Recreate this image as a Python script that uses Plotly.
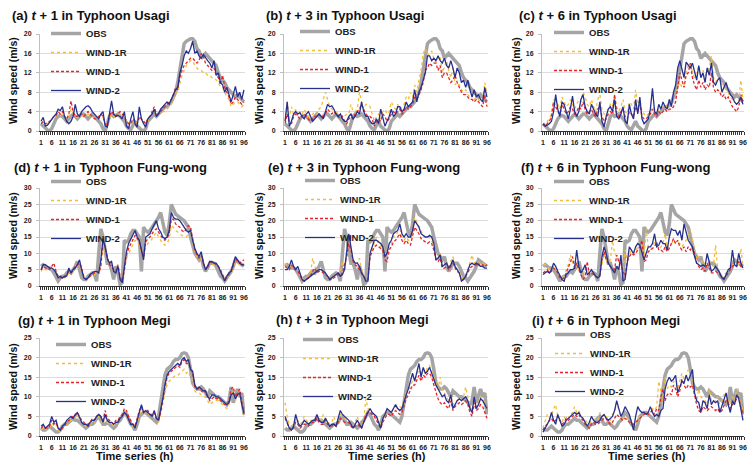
import plotly.graph_objects as go

hours = list(range(1, 97))
x_ticks = [1, 6, 11, 16, 21, 26, 31, 36, 41, 46, 51, 56, 61, 66, 71, 76, 81, 86, 91, 96]
y_ticks_usagi = [0, 4, 8, 12, 16, 20]
y_ticks_fungwong = [0, 5, 10, 15, 20, 25, 30]
y_ticks_megi = [0, 5, 10, 15, 20, 25]
series_names = ["OBS", "WIND-1R", "WIND-1", "WIND-2"]

# ---------------- Typhoon Usagi ----------------
usagi_obs = [1.5,1.0,0.5,0.2,0.0,0.5,1.5,2.5,3.0,3.2,
             3.0,2.5,2.0,2.5,3.0,3.5,3.0,2.5,3.0,3.5,
             3.5,3.0,2.5,3.0,3.5,3.0,2.5,2.0,1.5,0.5,
             0.0,1.5,3.0,3.5,3.0,3.2,3.5,3.0,2.5,2.0,
             1.0,0.5,0.3,1.0,2.0,1.0,0.5,0.2,0.0,0.5,
             2.0,2.5,3.0,3.5,3.0,3.5,4.0,4.5,5.0,5.0,
             5.5,6.0,7.0,8.0,10.0,13.0,15.5,18.0,18.5,18.7,
             19.0,19.0,18.5,17.0,16.5,15.0,15.5,16.0,15.5,15.0,
             14.5,14.0,13.5,12.0,11.0,10.5,10.0,9.0,8.5,8.0,
             7.5,7.0,7.5,7.0,6.5,6.0]

usagi_t1_wind1r = [1.5,1.8,1.5,1.5,2.0,2.5,2.8,3.0,3.5,3.2,
                   3.5,3.0,2.5,3.0,4.5,3.5,3.0,2.8,3.0,3.2,
                   3.0,3.2,3.5,3.2,3.0,2.5,2.5,2.8,3.0,2.8,
                   1.5,1.2,2.5,3.5,3.0,3.0,3.0,3.5,3.0,2.8,
                   2.0,1.5,1.5,2.0,2.0,1.5,2.5,2.0,1.8,1.5,
                   2.0,2.5,3.5,4.5,3.0,3.2,3.5,4.0,4.0,4.5,
                   5.0,5.5,6.5,8.0,8.0,10.0,11.5,12.5,13.5,14.0,
                   14.5,14.5,13.5,13.0,12.5,12.5,12.0,12.0,11.5,11.5,
                   11.0,11.0,10.5,10.0,9.0,9.0,8.0,7.0,6.5,5.0,
                   5.5,6.0,6.0,5.5,5.0,5.5]
usagi_t1_wind1 = [1.5,2.0,1.5,1.8,2.0,2.5,3.0,3.2,4.0,3.5,
                  4.0,3.0,2.5,3.5,6.2,4.0,3.0,3.0,3.5,3.5,
                  3.0,3.5,4.0,3.5,3.0,2.5,2.5,3.0,3.5,3.0,
                  1.5,1.0,3.0,4.0,3.5,3.0,3.5,4.0,3.5,3.0,
                  2.0,1.5,1.5,2.5,2.0,1.5,3.0,2.5,2.0,1.5,
                  2.5,3.0,4.0,5.0,3.5,3.5,4.0,4.5,5.0,5.5,
                  6.0,6.5,7.5,9.0,8.5,11.0,12.5,13.5,14.0,14.5,
                  15.0,15.0,14.5,14.0,14.5,16.0,15.5,14.0,13.5,13.0,
                  12.5,13.0,11.5,11.0,9.5,11.5,9.0,8.0,7.0,5.5,
                  6.0,7.0,6.5,6.0,5.5,6.0]
usagi_t1_wind2 = [2.0,2.8,1.0,1.2,1.8,2.5,3.0,3.5,4.5,4.2,
                  5.0,3.0,2.0,1.5,2.0,3.0,5.5,3.5,3.0,4.0,
                  4.5,5.0,5.2,4.8,4.0,3.5,3.0,2.5,3.5,4.0,
                  1.0,0.8,3.5,6.2,3.5,3.0,3.2,3.0,2.5,4.0,
                  1.0,0.5,2.5,4.0,1.5,0.8,5.0,2.5,1.5,0.8,
                  2.5,3.0,3.5,4.5,3.0,3.5,4.5,5.0,5.5,6.0,
                  5.5,6.5,7.5,8.5,9.0,12.0,13.5,15.5,16.5,16.0,
                  17.0,18.5,16.0,16.5,15.5,15.0,15.8,15.0,14.5,14.0,
                  13.0,14.5,11.5,12.0,10.0,9.5,8.0,9.0,7.5,6.0,
                  7.5,9.2,7.0,8.0,6.5,8.5]

usagi_t3_wind1r = [2.0,6.0,2.5,5.0,3.5,4.5,3.0,4.0,3.5,4.5,
                   3.5,3.0,3.0,3.5,4.0,3.5,4.5,5.0,6.5,8.0,
                   6.5,5.0,4.5,4.0,4.0,3.5,3.5,3.0,3.0,3.5,
                   3.5,5.5,4.0,4.0,4.5,8.0,6.0,4.5,5.5,5.5,
                   5.0,3.5,2.0,3.0,3.5,2.5,4.0,4.5,3.5,4.0,
                   6.0,5.0,4.5,5.5,4.5,5.0,5.5,7.0,6.5,8.0,
                   7.0,9.5,8.0,10.5,12.5,16.0,17.0,15.5,16.0,16.5,
                   15.0,14.0,15.0,15.5,12.0,13.5,14.5,12.5,11.0,13.0,
                   9.5,10.0,9.5,8.5,8.0,8.5,7.5,7.0,7.5,6.5,
                   7.0,6.5,6.0,6.5,10.0,7.5]
usagi_t3_wind1 = [1.5,3.5,2.0,1.5,3.0,3.5,3.0,2.5,3.0,3.5,
                  3.0,2.5,2.0,2.5,3.0,3.0,3.5,3.0,3.0,3.5,
                  4.5,4.0,3.5,4.0,3.5,3.0,2.5,3.0,2.0,1.5,
                  2.5,3.0,2.5,3.5,4.0,4.5,5.5,4.5,3.5,3.0,
                  3.0,2.5,1.0,2.0,2.5,2.0,3.5,3.0,2.0,2.5,
                  3.5,4.0,3.5,4.0,4.5,3.5,4.0,5.0,4.5,5.0,
                  5.5,7.0,6.5,7.5,8.5,10.0,12.5,13.0,14.0,13.5,
                  14.0,14.0,12.5,13.5,11.0,12.0,12.0,11.0,10.0,10.5,
                  11.5,10.0,9.0,8.0,7.5,7.5,7.0,6.5,6.5,6.0,
                  6.5,6.0,5.5,5.0,7.5,5.0]
usagi_t3_wind2 = [2.0,6.0,1.0,2.0,3.5,4.0,3.5,3.8,3.0,2.5,
                  3.5,4.0,3.0,2.0,2.5,3.0,3.5,3.0,2.5,4.0,
                  5.5,5.0,5.2,4.5,3.5,3.0,3.5,2.5,2.0,2.0,
                  3.0,3.5,2.5,3.0,4.0,3.5,6.0,4.0,3.0,3.0,
                  2.0,1.5,1.5,2.5,1.5,4.5,2.5,1.0,2.0,3.0,
                  4.5,3.0,3.5,5.0,5.0,4.0,4.5,6.0,5.0,5.5,
                  6.0,8.5,6.0,8.0,9.0,10.5,12.0,15.5,15.5,14.5,
                  15.0,14.5,15.5,14.5,14.0,15.0,13.5,13.0,14.5,13.0,
                  11.0,13.0,12.0,10.0,10.5,9.0,10.5,8.5,7.0,8.5,
                  7.0,7.5,6.5,6.0,9.0,7.0]

usagi_t6_wind1r = [1.5,1.2,2.0,2.5,3.5,6.5,6.0,5.5,4.5,7.0,
                   6.0,5.0,5.5,6.5,5.5,4.5,5.5,6.5,6.0,8.0,
                   7.0,5.5,5.0,6.5,5.0,4.0,6.5,7.5,4.5,3.5,
                   3.5,4.5,5.5,5.0,7.5,5.0,4.0,5.0,6.5,4.0,
                   3.5,6.0,5.5,4.5,8.5,5.5,6.5,4.0,3.5,3.0,
                   3.5,4.0,5.0,4.5,4.0,4.5,4.5,5.0,5.5,4.5,
                   5.0,5.5,6.0,7.0,9.0,10.0,9.0,9.5,12.0,13.5,
                   14.0,12.0,11.0,12.5,13.0,11.0,12.5,11.5,12.0,13.0,
                   15.5,11.0,10.0,11.0,10.5,9.5,9.0,8.5,8.0,7.0,
                   6.5,6.0,5.5,6.0,10.5,6.5]
usagi_t6_wind1 = [1.5,1.0,1.5,2.0,3.0,6.0,5.0,4.0,3.5,5.5,
                  4.5,3.5,4.0,5.0,4.5,3.5,4.0,5.0,4.5,6.0,
                  4.5,3.5,4.0,4.5,3.5,3.0,4.5,5.0,3.0,2.0,
                  2.5,3.5,4.0,3.5,7.5,3.5,3.0,4.0,4.5,3.0,
                  2.5,4.0,3.5,3.0,5.0,4.0,5.5,3.0,2.5,2.5,
                  3.0,3.5,4.5,3.5,3.0,4.0,3.5,4.0,4.5,4.0,
                  4.5,4.5,5.0,6.0,9.5,12.0,10.5,9.0,11.5,12.0,
                  14.0,11.0,9.5,8.5,10.5,9.0,10.0,8.5,9.5,9.0,
                  12.0,9.0,8.0,8.5,8.0,7.0,7.5,6.5,7.0,6.0,
                  5.0,4.5,4.0,5.0,7.5,6.0]
usagi_t6_wind2 = [1.5,1.0,1.2,1.5,2.0,4.0,7.5,4.5,3.0,6.0,
                  5.5,4.0,2.5,4.5,7.2,4.0,3.0,4.0,6.5,7.5,
                  5.0,4.0,3.5,5.5,4.5,3.5,3.0,6.0,2.0,0.8,
                  3.0,4.5,5.0,4.0,6.5,3.0,2.5,3.5,5.0,2.0,
                  1.5,5.5,3.5,2.5,6.5,3.5,7.0,2.5,1.5,2.0,
                  2.5,4.5,8.8,4.0,3.5,5.5,4.5,6.0,5.0,4.5,
                  6.5,5.0,8.0,9.5,13.0,14.5,12.5,11.0,14.2,13.5,
                  13.0,14.0,12.0,10.5,13.5,11.0,12.0,10.0,13.0,11.5,
                  14.0,10.0,9.5,10.5,11.0,8.0,9.0,10.0,8.5,7.5,
                  7.0,6.0,5.5,6.0,7.0,5.5]

# ---------------- Typhoon Fung-wong ----------------
fungwong_obs = [6.0,6.5,6.0,5.5,5.5,5.0,4.0,2.5,1.5,2.5,
                3.0,3.0,4.0,4.5,4.0,5.0,6.0,7.5,5.0,2.5,
                2.0,2.0,3.0,3.5,4.0,3.5,1.5,10.0,17.5,15.0,
                11.0,7.0,7.0,5.0,2.0,6.0,4.0,0.5,1.0,14.0,
                13.5,14.0,16.0,17.0,17.0,16.0,15.0,4.5,18.0,17.0,
                16.5,17.0,18.0,19.0,20.0,21.0,22.5,20.0,16.5,15.5,
                19.0,25.0,23.5,22.0,21.5,21.0,20.5,20.0,19.0,18.0,
                15.0,12.0,10.0,9.0,8.0,9.0,6.0,4.5,5.5,7.0,
                7.0,7.0,6.0,4.5,3.0,2.5,1.5,2.5,3.5,4.5,
                6.0,8.0,7.5,7.0,6.5,6.0]

fungwong_t1_wind1r = [4.5,5.5,5.0,5.0,5.0,5.0,5.5,4.5,3.5,2.5,
                      2.5,2.5,3.0,4.0,4.0,4.5,5.5,6.0,6.5,5.0,
                      3.0,2.0,2.5,3.0,3.5,3.5,4.0,4.0,6.0,13.0,
                      11.0,8.5,6.5,6.0,5.0,4.5,6.0,3.0,2.0,4.5,
                      8.5,10.0,11.5,13.0,14.0,13.5,12.5,10.5,8.5,12.0,
                      13.0,13.5,14.5,15.5,16.5,15.0,14.0,13.0,12.5,13.0,
                      14.5,18.5,18.0,17.0,16.5,16.0,15.5,15.0,15.0,16.0,
                      16.5,13.0,10.5,9.0,8.0,9.0,6.5,5.0,5.0,7.0,
                      6.5,6.5,6.0,5.5,4.5,3.0,2.0,2.5,3.5,4.0,
                      5.5,8.0,7.0,6.5,6.5,7.0]
fungwong_t1_wind1 = [5.0,6.0,5.5,5.5,5.0,6.0,7.0,4.5,3.0,2.5,
                     2.5,2.5,3.5,4.5,4.0,5.0,6.0,6.5,7.0,5.5,
                     3.0,2.0,2.5,3.0,3.5,4.0,4.5,4.0,6.0,14.0,
                     12.0,9.0,6.5,6.0,5.0,4.5,6.5,3.0,1.5,5.0,
                     9.5,11.5,13.0,14.5,15.5,14.5,13.5,11.0,9.0,13.5,
                     14.5,15.0,16.0,17.0,17.5,16.5,15.5,14.5,14.0,14.5,
                     16.0,20.5,20.5,19.0,18.5,18.0,17.0,16.5,17.5,18.5,
                     18.0,14.0,11.0,9.5,8.5,9.5,7.0,5.0,5.5,7.5,
                     7.0,7.0,6.5,6.0,5.0,3.5,2.0,3.0,3.5,4.5,
                     6.0,8.5,7.5,7.0,7.5,8.0]
fungwong_t1_wind2 = [5.0,6.5,6.5,6.0,5.5,5.5,5.0,4.0,2.5,3.0,
                     2.5,3.0,3.0,5.5,4.0,5.0,5.5,6.5,8.0,5.0,
                     2.5,2.0,2.5,3.5,4.0,4.5,4.5,4.0,8.0,14.5,
                     12.0,8.5,7.0,7.5,4.5,4.0,6.0,2.0,1.0,6.0,
                     10.5,13.0,14.5,16.0,17.0,15.0,14.0,11.0,8.0,15.0,
                     15.5,16.0,17.5,19.0,20.0,17.5,16.5,15.0,14.5,15.0,
                     17.0,22.5,21.0,20.5,20.5,20.0,19.0,18.0,17.0,16.5,
                     17.0,14.0,11.5,10.0,9.0,10.5,7.0,5.0,6.0,7.5,
                     7.5,7.0,7.0,6.0,4.5,3.0,1.5,3.0,4.0,4.5,
                     6.5,9.0,8.0,7.0,6.5,6.5]

fungwong_t3_wind1r = [7.0,6.0,5.5,7.0,6.0,5.5,5.0,3.5,2.5,2.0,
                      2.5,3.0,4.0,8.5,6.0,4.5,5.0,5.0,4.5,4.0,
                      3.0,2.5,2.5,3.0,3.5,4.0,4.0,7.5,5.0,9.0,
                      14.0,11.0,8.0,7.0,7.0,8.5,5.0,3.5,2.5,2.0,
                      10.0,11.5,13.0,15.0,13.0,12.0,12.5,9.5,9.0,12.0,
                      13.0,15.0,15.5,16.5,17.5,15.0,14.0,15.0,14.0,14.0,
                      16.0,21.0,19.5,18.0,16.5,15.5,15.0,14.5,15.0,14.0,
                      12.0,9.0,8.5,10.0,6.0,6.5,7.5,6.0,7.5,9.0,
                      6.5,5.0,4.5,2.0,2.5,3.5,5.0,7.0,9.5,7.0,
                      7.5,7.5,6.5,7.0,6.5,7.0]
fungwong_t3_wind1 = [6.0,5.5,5.0,6.5,5.5,5.0,4.5,3.5,2.0,1.5,
                     2.0,2.5,3.0,4.5,5.5,4.0,4.5,4.5,4.0,3.5,
                     3.0,2.0,2.0,2.5,3.0,3.5,3.0,4.0,6.5,9.0,
                     13.0,11.0,7.5,6.5,6.0,5.0,4.0,3.0,2.0,2.0,
                     9.0,10.5,12.0,12.5,12.0,11.5,11.0,8.0,7.5,11.0,
                     12.0,13.5,14.0,15.0,16.0,14.0,13.0,14.0,13.0,12.5,
                     15.0,18.0,17.0,16.0,14.5,14.0,13.5,13.0,13.5,13.0,
                     11.0,8.0,7.5,8.5,5.5,5.5,6.0,5.0,6.0,7.0,
                     5.5,4.5,4.0,2.0,2.0,3.0,4.0,5.5,6.0,6.0,
                     6.5,7.0,6.0,6.5,6.0,6.5]
fungwong_t3_wind2 = [5.0,5.0,6.0,8.0,6.0,5.0,6.0,4.0,2.0,1.5,
                     2.0,2.5,3.0,3.5,4.0,4.5,5.0,5.0,4.5,4.0,
                     3.0,2.0,2.5,3.0,3.5,4.0,3.0,3.5,5.0,10.0,
                     16.0,12.0,8.0,7.0,7.0,6.0,4.0,3.0,1.5,1.5,
                     10.0,12.0,14.0,14.0,13.5,13.0,12.0,9.0,10.0,13.0,
                     14.0,16.0,16.5,17.0,19.0,16.0,15.0,16.0,15.0,15.0,
                     17.0,20.0,19.0,18.0,16.0,15.5,15.0,15.0,15.5,15.0,
                     13.0,8.0,8.5,9.5,6.0,6.5,7.0,5.5,6.5,8.0,
                     6.0,5.0,4.0,1.5,2.0,3.0,4.5,6.5,7.0,6.5,
                     7.0,6.5,6.0,6.0,5.5,5.5]

fungwong_t6_wind1r = [6.5,6.5,6.0,5.0,5.0,6.0,5.5,4.5,3.0,2.5,
                      3.0,5.0,6.5,9.5,7.0,5.0,6.5,5.0,4.0,3.0,
                      6.0,5.0,4.0,4.5,4.0,3.0,2.5,3.0,7.0,10.0,
                      8.0,7.0,8.0,14.0,10.0,9.0,7.5,6.5,5.0,11.0,
                      8.0,9.5,11.0,10.0,10.5,12.0,11.5,13.0,8.5,17.5,
                      12.0,11.0,12.0,13.5,12.5,11.5,12.0,13.0,16.0,11.5,
                      12.0,13.0,14.0,13.0,13.5,13.0,12.0,13.0,14.0,15.0,
                      17.5,14.0,11.0,8.0,9.0,8.5,6.5,7.0,9.0,8.0,
                      6.5,6.0,12.5,5.0,4.5,3.0,3.5,4.0,5.0,5.5,
                      6.5,6.5,6.0,7.0,11.5,6.0]
fungwong_t6_wind1 = [4.0,4.5,5.0,4.0,4.5,5.5,5.0,4.0,2.5,2.0,
                     2.5,4.0,5.5,7.0,9.0,5.5,7.0,5.0,3.5,2.0,
                     3.0,7.5,3.5,4.0,3.5,3.0,2.5,3.5,8.0,10.5,
                     8.0,7.0,6.0,5.5,5.0,9.5,7.5,7.0,4.5,3.0,
                     7.5,9.0,10.0,9.5,10.0,11.0,12.0,14.0,7.5,8.0,
                     10.5,11.0,11.5,12.0,13.5,11.0,11.0,10.5,12.0,10.5,
                     11.5,13.0,14.5,13.0,14.0,12.0,11.0,12.0,10.5,12.0,
                     11.0,12.0,10.0,7.0,6.0,5.0,5.5,4.5,7.0,5.5,
                     4.0,4.0,4.5,4.0,3.5,2.5,2.5,3.0,4.0,5.0,
                     6.0,6.5,6.0,7.5,6.0,5.5]
fungwong_t6_wind2 = [3.5,4.0,4.5,4.0,5.0,7.0,6.0,4.5,3.0,2.0,
                     1.5,3.5,4.0,5.0,5.0,5.5,11.0,6.0,4.0,5.0,
                     6.5,3.5,4.0,5.0,4.0,3.0,2.5,3.0,9.0,12.0,
                     10.0,7.0,6.0,5.0,4.0,6.0,5.0,9.5,1.5,2.0,
                     8.0,12.0,11.0,10.0,12.0,13.0,12.5,10.0,8.0,10.0,
                     12.0,12.0,13.0,16.0,12.0,12.5,14.0,13.0,13.0,11.0,
                     15.0,17.5,17.0,17.0,15.5,17.0,14.0,19.0,16.0,14.0,
                     13.0,12.0,9.0,7.0,6.5,6.0,6.5,6.0,10.0,7.0,
                     4.5,5.0,6.0,5.0,4.0,2.5,2.0,3.5,5.0,5.5,
                     11.0,6.5,6.0,10.0,7.0,5.5]

# ---------------- Typhoon Megi ----------------
megi_obs = [2.0,1.5,1.5,2.0,2.5,2.0,1.5,1.0,1.0,1.5,
            2.5,3.0,3.0,3.5,4.0,4.5,4.0,4.0,3.5,3.0,
            2.5,2.0,2.5,3.0,3.0,3.5,4.5,5.0,4.0,3.0,
            3.0,3.5,3.0,2.5,2.0,2.5,3.5,4.0,5.0,6.0,
            5.5,4.0,3.0,2.5,1.5,3.0,5.0,5.5,6.0,6.0,
            5.5,5.0,4.5,4.0,3.5,5.0,9.0,13.0,15.5,17.0,
            17.5,18.0,19.0,19.5,19.5,20.0,21.0,21.2,21.0,20.0,
            17.0,13.5,12.5,12.0,12.0,12.5,12.0,11.0,10.0,11.5,
            11.0,10.5,10.0,10.0,9.5,9.0,8.5,8.0,9.0,12.5,
            8.5,10.0,12.0,10.0,11.0,5.5]

megi_t1_wind1r = [1.5,2.0,1.5,2.0,2.0,3.5,2.5,3.0,1.5,1.0,
                  2.0,2.5,3.0,3.5,4.0,4.0,4.5,5.5,4.0,3.5,
                  3.0,2.5,2.5,3.0,3.5,3.5,4.5,5.0,4.0,3.0,
                  5.0,3.5,3.0,3.0,2.5,3.0,3.5,4.5,5.0,6.0,
                  5.5,4.0,3.0,2.5,2.0,3.5,5.5,7.0,5.5,6.0,
                  6.0,5.0,5.0,5.5,4.0,3.5,5.5,8.5,11.0,13.0,
                  14.0,14.5,15.0,15.5,15.5,16.0,16.5,17.0,16.0,16.5,
                  15.0,14.0,11.5,11.0,11.0,10.5,10.0,10.0,9.0,8.0,
                  8.5,9.0,9.0,9.0,8.5,8.0,7.5,7.0,8.0,10.5,
                  11.5,9.0,10.0,11.0,8.0,5.0]
megi_t1_wind1 = [2.0,2.5,2.0,2.0,2.5,4.0,3.0,3.5,2.0,1.5,
                 2.0,2.5,3.5,4.0,4.5,5.0,5.0,6.0,5.0,4.0,
                 3.5,3.0,3.0,3.5,4.5,4.0,5.0,5.5,5.0,4.0,
                 6.5,4.5,4.0,3.5,3.0,4.0,4.0,5.0,5.5,7.0,
                 6.5,5.0,4.0,3.0,2.5,4.5,6.5,7.5,6.0,6.5,
                 6.5,5.5,5.5,6.0,4.5,4.0,6.0,9.0,12.5,15.0,
                 16.0,16.5,17.0,17.5,18.0,17.5,19.0,19.5,18.5,18.5,
                 17.0,16.0,12.5,12.0,12.0,11.5,11.0,11.5,10.0,9.0,
                 9.5,10.0,9.5,9.5,9.0,8.5,8.0,8.0,9.0,12.0,
                 12.5,10.0,11.0,12.0,9.0,5.5]
megi_t1_wind2 = [2.5,3.0,2.0,2.5,3.0,5.0,3.5,4.0,2.0,1.5,
                 2.5,3.0,4.0,4.5,5.0,4.5,5.5,6.0,4.5,3.5,
                 3.0,3.0,2.5,3.5,4.0,4.0,5.0,5.5,5.0,3.5,
                 5.5,4.0,3.5,3.5,3.0,3.5,3.5,4.5,5.0,6.0,
                 5.5,4.0,3.0,3.0,2.0,4.0,6.0,8.0,6.0,6.5,
                 6.0,5.5,5.0,6.5,4.5,4.0,6.5,9.5,13.0,15.5,
                 16.5,17.0,17.5,18.0,18.5,18.0,19.5,20.0,19.0,19.5,
                 17.0,16.5,13.0,12.0,12.5,12.0,11.5,11.5,10.0,9.5,
                 10.5,10.5,10.0,10.0,9.5,9.0,8.5,8.0,8.5,10.5,
                 11.0,9.5,10.5,11.0,8.0,6.0]

megi_t3_wind1r = [8.5,5.0,3.0,2.5,3.0,4.5,4.0,3.0,3.5,5.0,
                  4.0,3.5,4.0,4.0,4.5,5.0,4.5,4.0,5.5,4.5,
                  4.0,3.0,3.5,5.0,3.0,4.0,5.5,5.0,4.5,4.0,
                  4.0,3.0,2.5,3.5,5.0,3.0,2.5,4.0,9.5,7.0,
                  6.5,6.0,5.5,5.0,4.0,3.0,4.5,5.5,6.5,6.5,
                  6.0,7.0,7.5,7.0,7.5,7.0,9.0,11.0,11.5,13.0,
                  14.0,14.5,16.0,17.0,15.5,17.0,16.0,17.5,18.0,16.5,
                  14.5,13.0,12.0,15.0,11.5,11.0,10.0,9.0,10.5,8.0,
                  8.5,9.0,9.5,9.0,10.0,12.5,9.5,7.5,6.5,9.5,
                  8.0,8.5,10.0,9.5,8.5,7.0]
megi_t3_wind1 = [4.5,3.0,2.0,1.5,2.0,3.5,3.0,2.0,2.5,3.0,
                 3.0,2.5,3.0,3.5,3.5,4.5,3.5,3.0,3.0,4.0,
                 3.0,2.5,2.5,3.0,2.5,3.5,4.5,4.0,3.5,3.5,
                 3.5,2.5,2.0,2.5,3.0,2.5,2.0,3.5,5.5,6.0,
                 6.0,5.5,5.0,4.0,3.0,2.0,3.5,4.5,5.5,5.5,
                 5.0,6.0,6.5,6.0,5.5,6.0,8.0,9.5,10.5,12.0,
                 13.0,13.0,14.5,15.5,14.0,15.5,15.0,16.0,16.0,15.0,
                 13.0,11.0,9.5,8.5,8.0,8.5,7.5,7.0,9.0,6.5,
                 7.5,8.0,8.5,8.0,8.5,9.0,8.0,6.0,5.0,8.5,
                 6.5,7.0,8.0,7.5,6.0,4.5]
megi_t3_wind2 = [5.0,3.5,2.0,1.5,2.5,5.5,3.5,2.5,3.0,4.0,
                 3.5,3.0,3.5,4.0,4.0,5.5,4.0,3.5,3.5,4.5,
                 3.5,2.5,3.0,3.0,2.5,4.5,6.5,5.5,5.0,4.5,
                 4.0,3.0,2.0,3.0,4.0,3.0,2.0,3.5,5.0,6.0,
                 7.0,6.0,5.5,5.0,3.5,2.0,4.5,5.5,7.0,6.5,
                 6.0,7.0,8.0,7.0,6.5,7.0,9.0,10.5,12.0,14.0,
                 16.0,14.0,16.5,18.5,15.0,17.5,16.0,16.5,17.5,16.0,
                 14.0,13.0,12.0,11.0,10.0,10.5,9.0,8.5,10.5,7.0,
                 8.0,9.0,9.5,9.0,9.5,10.0,9.0,7.0,6.0,10.0,
                 7.0,8.0,9.5,9.0,8.0,7.0]

megi_t6_wind1r = [2.0,3.5,5.5,4.5,5.0,7.0,8.0,5.0,4.0,3.5,
                  5.0,4.0,4.5,5.5,6.0,7.5,6.0,6.5,5.0,4.5,
                  4.0,3.5,3.0,4.0,4.0,4.5,4.0,6.0,5.0,5.5,
                  5.0,4.0,4.0,5.5,6.0,8.5,6.5,5.0,4.5,5.0,
                  4.5,4.0,3.5,2.0,3.0,4.5,5.0,5.5,6.0,6.5,
                  6.0,6.5,7.0,6.5,7.5,14.0,11.0,9.0,15.0,12.0,
                  13.0,12.5,14.0,13.5,12.0,14.0,16.0,14.5,15.0,17.0,
                  15.5,14.0,11.0,9.0,12.0,10.0,9.5,9.0,8.0,12.0,
                  9.0,8.5,9.0,10.0,8.0,9.0,10.5,11.0,9.5,8.0,
                  10.0,9.0,12.0,11.0,8.5,6.5]
megi_t6_wind1 = [1.5,2.5,3.0,4.0,4.5,3.5,4.0,5.0,4.0,3.0,
                 3.5,4.5,4.0,4.5,5.0,5.5,5.0,5.5,4.5,4.0,
                 3.0,2.5,2.0,3.0,3.5,3.0,3.0,3.5,4.0,4.5,
                 4.5,3.5,3.0,3.5,4.5,5.5,5.0,4.5,4.0,4.5,
                 4.0,3.5,3.0,3.0,3.5,4.0,4.5,5.0,5.5,6.0,
                 5.5,6.0,6.5,5.5,7.0,6.5,10.0,12.0,9.0,10.5,
                 11.0,10.5,13.0,12.0,10.0,11.5,14.5,13.0,12.0,13.0,
                 12.5,13.0,10.0,8.0,6.5,6.0,7.5,7.0,6.5,7.0,
                 7.5,7.0,6.5,7.0,6.0,6.5,8.0,9.0,8.5,7.0,
                 8.0,8.5,9.5,10.0,7.0,6.0]
megi_t6_wind2 = [1.0,2.0,3.0,4.0,6.0,4.0,3.0,5.5,4.0,2.5,
                 3.0,4.0,4.5,5.0,5.5,6.0,5.5,6.0,5.0,4.5,
                 3.5,2.5,3.5,5.0,4.0,3.5,3.5,4.0,5.0,5.5,
                 4.5,4.0,4.5,5.0,6.5,9.0,7.0,5.0,6.0,7.5,
                 6.5,5.5,3.5,1.5,5.0,7.5,6.5,6.0,6.0,5.5,
                 6.0,7.5,6.0,5.0,5.5,5.0,6.5,7.0,12.0,14.0,
                 15.0,14.0,14.5,15.5,11.0,12.5,14.0,13.5,15.5,14.0,
                 15.5,17.0,11.0,9.0,8.5,6.0,9.0,8.5,7.0,10.5,
                 8.0,9.0,8.5,9.0,6.0,7.5,9.0,11.0,8.0,6.0,
                 9.0,8.0,10.5,9.5,7.0,4.0]

panels = [
    ("(a)", "1", "Usagi", usagi_obs, usagi_t1_wind1r, usagi_t1_wind1, usagi_t1_wind2, y_ticks_usagi),
    ("(b)", "3", "Usagi", usagi_obs, usagi_t3_wind1r, usagi_t3_wind1, usagi_t3_wind2, y_ticks_usagi),
    ("(c)", "6", "Usagi", usagi_obs, usagi_t6_wind1r, usagi_t6_wind1, usagi_t6_wind2, y_ticks_usagi),
    ("(d)", "1", "Fung-wong", fungwong_obs, fungwong_t1_wind1r, fungwong_t1_wind1, fungwong_t1_wind2, y_ticks_fungwong),
    ("(e)", "3", "Fung-wong", fungwong_obs, fungwong_t3_wind1r, fungwong_t3_wind1, fungwong_t3_wind2, y_ticks_fungwong),
    ("(f)", "6", "Fung-wong", fungwong_obs, fungwong_t6_wind1r, fungwong_t6_wind1, fungwong_t6_wind2, y_ticks_fungwong),
    ("(g)", "1", "Megi", megi_obs, megi_t1_wind1r, megi_t1_wind1, megi_t1_wind2, y_ticks_megi),
    ("(h)", "3", "Megi", megi_obs, megi_t3_wind1r, megi_t3_wind1, megi_t3_wind2, y_ticks_megi),
    ("(i)", "6", "Megi", megi_obs, megi_t6_wind1r, megi_t6_wind1, megi_t6_wind2, y_ticks_megi),
]
for p in panels:
    for arr in p[3:7]:
        assert len(arr) == 96, (p[0], len(arr))

# ---------------- layout (pixels on a 756 x 469 canvas) ----------------
W, H = 756, 469
FONT = "Liberation Sans, Arial, sans-serif"
col_px = [(40, 245), (284, 488), (542, 744)]
row_px = [(34, 131), (188, 286), (338, 436)]
title_px = [(10, 15), (264, 15), (517, 15), (12, 168), (266, 168), (519, 168),
            (16, 320), (274, 319), (530, 320)]
ytitle_x = [13, 259, 516]
ytitle_y = [81, 236, 387]
legend_px = [(46, 19), (295, 17), (549, 18), (46, 167), (300, 166), (549, 167),
             (51, 330), (298, 325), (550, 320)]
xtitle_x = [135, 387, 647]
xtitle_y = 456

styles = [
    dict(color="#a5a5a5", width=3.5, dash="solid"),
    dict(color="#f2bd3a", width=1.3, dash="dot"),
    dict(color="#e3262b", width=1.3, dash="3px,2px"),
    dict(color="#27308f", width=1.3, dash="solid"),
]

def px_x(x):
    return x / W

def px_y(y):
    return 1 - y / H

fig = go.Figure()
layout = dict(width=W, height=H, margin=dict(l=0, r=0, t=0, b=0, autoexpand=False),
              paper_bgcolor="white", plot_bgcolor="white",
              font=dict(family=FONT, color="#1a1a1a"), annotations=[])

for i, (lab, lead, name, obs, w1r, w1, w2, yt) in enumerate(panels):
    sfx = "" if i == 0 else str(i + 1)
    r, c = divmod(i, 3)
    for k, (sname, vals) in enumerate(zip(series_names, [obs, w1r, w1, w2])):
        fig.add_trace(go.Scatter(
            x=hours, y=vals, mode="lines", name=sname,
            line=styles[k], xaxis="x" + sfx, yaxis="y" + sfx,
            legend="legend" + sfx, showlegend=True))
    x0, x1 = col_px[c]
    y0, y1 = row_px[r]
    layout["xaxis" + sfx] = dict(
        domain=[px_x(x0), px_x(x1)], anchor="y" + sfx, range=[0.5, 96.5],
        tickvals=x_ticks, ticktext=[str(v) for v in x_ticks],
        ticks="outside", ticklen=3, tickcolor="rgba(0,0,0,0)",
        tickfont=dict(size=7, family=FONT, weight="bold", color="#222"),
        ticklabelstandoff=1,
        minor=dict(ticks="outside", tick0=0.5, dtick=1, ticklen=3,
                   tickcolor="#333", tickwidth=1, showgrid=False),
        showline=True, linecolor="#333", linewidth=1.2, showgrid=False,
        zeroline=False, fixedrange=True)
    layout["yaxis" + sfx] = dict(
        domain=[px_y(y1), px_y(y0)], anchor="x" + sfx,
        range=[0, yt[-1]], tickvals=yt,
        ticks="outside", ticklen=3, tickcolor="#bfbfbf",
        tickfont=dict(size=7, family=FONT, weight="bold", color="#222"),
        ticklabelstandoff=3,
        showline=True, linecolor="#bfbfbf", linewidth=1,
        showgrid=True, gridcolor="#dcdcdc", gridwidth=1,
        zeroline=False, fixedrange=True)
    lx, ly = legend_px[i]
    layout["legend" + sfx] = dict(
        x=px_x(lx), y=px_y(ly), xanchor="left", yanchor="top",
        bgcolor="rgba(0,0,0,0)", borderwidth=0, itemwidth=30,
        font=dict(size=9.5, family=FONT, weight="bold", color="#222"),
        traceorder="normal", tracegroupgap=0)
    tx, ty = title_px[i]
    layout["annotations"].append(dict(
        text=f"{lab} <i>t</i> + {lead} in Typhoon {name}",
        x=px_x(tx), y=px_y(ty), xref="paper", yref="paper",
        xanchor="left", yanchor="middle", showarrow=False,
        font=dict(size=13, family=FONT, weight="bold", color="#111")))
    layout["annotations"].append(dict(
        text="Wind speed (m/s)", textangle=-90,
        x=px_x(ytitle_x[c]), y=px_y(ytitle_y[r]), xref="paper", yref="paper",
        xanchor="center", yanchor="middle", showarrow=False,
        font=dict(size=10.5, family=FONT, weight="bold", color="#111")))
    if r == 2:
        layout["annotations"].append(dict(
            text="Time series (h)",
            x=px_x(xtitle_x[c]), y=px_y(xtitle_y), xref="paper", yref="paper",
            xanchor="center", yanchor="middle", showarrow=False,
            font=dict(size=11, family=FONT, weight="bold", color="#111")))

fig.update_layout(**layout)
# the page's default 8px body margin would offset the 756x469 figure in the window
fig.write_html("out.html", config={"displayModeBar": False},
               post_script="document.body.style.margin='0';")
